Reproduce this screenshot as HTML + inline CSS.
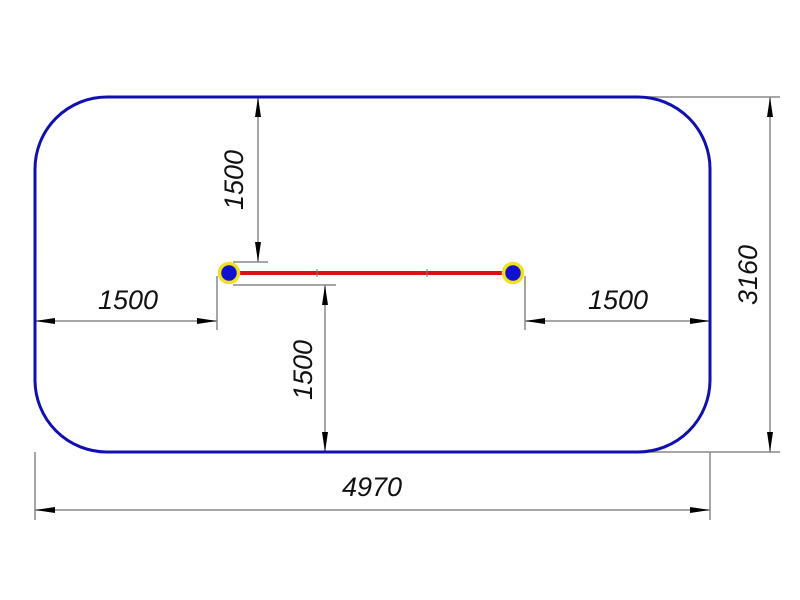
<!DOCTYPE html>
<html><head><style>body{margin:0;background:#fff}svg{display:block}</style></head><body>
<svg width="800" height="600" viewBox="0 0 800 600" xmlns="http://www.w3.org/2000/svg">
<defs>
<marker id="a" viewBox="0 0 20 6" refX="20" refY="3" markerWidth="20" markerHeight="6" markerUnits="userSpaceOnUse" orient="auto-start-reverse"><path d="M0,0 L20,3 L0,6 Z" fill="#000"/></marker>
</defs>
<g stroke="#888" stroke-width="1.5" fill="none">
<!-- extension lines -->
<line x1="640" y1="97" x2="780" y2="97"/>
<line x1="640" y1="452" x2="780" y2="452"/>
<line x1="35" y1="452" x2="35" y2="520"/>
<line x1="710" y1="452" x2="710" y2="520"/>
<line x1="233" y1="262" x2="268" y2="262"/>
<line x1="233" y1="285" x2="336" y2="285"/>
<line x1="217" y1="276" x2="217" y2="330"/>
<line x1="525" y1="276" x2="525" y2="330"/>
<!-- dimension lines -->
<line x1="770" y1="97" x2="770" y2="452" marker-start="url(#a)" marker-end="url(#a)"/>
<line x1="35" y1="510" x2="710" y2="510" marker-start="url(#a)" marker-end="url(#a)"/>
<line x1="258" y1="97" x2="258" y2="262" marker-start="url(#a)" marker-end="url(#a)"/>
<line x1="325" y1="285" x2="325" y2="452" marker-start="url(#a)" marker-end="url(#a)"/>
<line x1="35" y1="321" x2="217" y2="321" marker-start="url(#a)" marker-end="url(#a)"/>
<line x1="525" y1="321" x2="710" y2="321" marker-start="url(#a)" marker-end="url(#a)"/>
</g>
<rect x="35" y="97" width="675" height="355" rx="72" ry="72" fill="none" stroke="#1010b0" stroke-width="3"/>
<line x1="229" y1="273" x2="513" y2="273" stroke="#e01010" stroke-width="4"/>
<line x1="317" y1="269" x2="317" y2="277" stroke="#777" stroke-width="1"/>
<line x1="427" y1="269" x2="427" y2="277" stroke="#777" stroke-width="1"/>
<circle cx="229" cy="273" r="9.5" fill="#1010d0" stroke="#f0e020" stroke-width="3.5"/>
<circle cx="513" cy="273" r="9.5" fill="#1010d0" stroke="#f0e020" stroke-width="3.5"/>
<g font-family="Liberation Sans, sans-serif" font-size="27" font-style="italic" fill="#111" text-anchor="middle">
<text x="128" y="309">1500</text>
<text x="618" y="309">1500</text>
<text x="372" y="496">4970</text>
<text transform="translate(243,180) rotate(-90)">1500</text>
<text transform="translate(312,370) rotate(-90)">1500</text>
<text transform="translate(757,275) rotate(-90)">3160</text>
</g>
</svg>
</body></html>
